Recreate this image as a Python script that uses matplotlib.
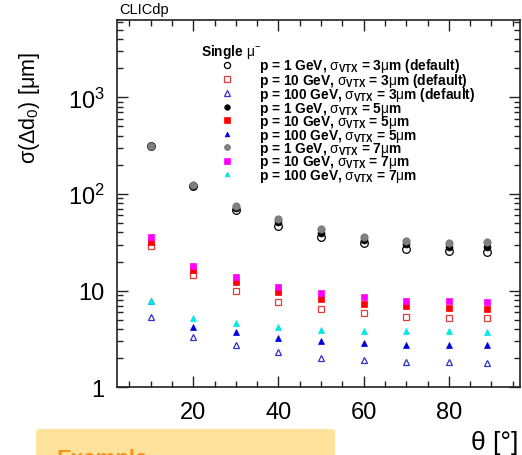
import matplotlib
matplotlib.use("Agg")
import matplotlib.pyplot as plt
from matplotlib.patches import FancyBboxPatch

plt.rcParams['font.family'] = ['Liberation Sans', 'DejaVu Sans']
plt.rcParams['mathtext.fontset'] = 'custom'
plt.rcParams['mathtext.rm'] = 'Liberation Sans'
plt.rcParams['mathtext.it'] = 'Liberation Sans'
plt.rcParams['mathtext.bf'] = 'Liberation Sans:bold'

theta = [10, 20, 30, 40, 50, 60, 70, 80, 89]

# p = 1 GeV
p1_s3 = [310, 120, 68, 47.1, 36.3, 31.0, 27.1, 25.8, 25.2]
p1_s5 = [312, 122, 71, 51.4, 39.3, 33.5, 30.5, 28.6, 28.6]
p1_s7 = [315, 124, 75.7, 54.8, 43.5, 36.3, 33.0, 31.3, 31.8]
# p = 10 GeV
p10_s3 = [29.1, 14.5, 9.8, 7.6, 6.5, 5.9, 5.4, 5.2, 5.25]
p10_s5 = [32.0, 16.2, 12.3, 9.6, 8.2, 7.3, 6.95, 6.6, 6.5]
p10_s7 = [35.5, 17.8, 13.9, 10.8, 9.4, 8.5, 7.9, 7.76, 7.7]
# p = 100 GeV
p100_s3 = [5.36, 3.3, 2.73, 2.33, 2.02, 1.91, 1.82, 1.82, 1.80]
p100_s5 = [7.76, 4.16, 3.72, 3.25, 2.98, 2.86, 2.77, 2.77, 2.77]
p100_s7 = [7.76, 5.15, 4.68, 4.22, 3.93, 3.84, 3.81, 3.80, 3.75]

labels = [
    r"p = 1 GeV, $\sigma_{\mathbf{VTX}}$ = 3$\mu$m (default)",
    r"p = 10 GeV, $\sigma_{\mathbf{VTX}}$ = 3$\mu$m (default)",
    r"p = 100 GeV, $\sigma_{\mathbf{VTX}}$ = 3$\mu$m (default)",
    r"p = 1 GeV, $\sigma_{\mathbf{VTX}}$ = 5$\mu$m",
    r"p = 10 GeV, $\sigma_{\mathbf{VTX}}$ = 5$\mu$m",
    r"p = 100 GeV, $\sigma_{\mathbf{VTX}}$ = 5$\mu$m",
    r"p = 1 GeV, $\sigma_{\mathbf{VTX}}$ = 7$\mu$m",
    r"p = 10 GeV, $\sigma_{\mathbf{VTX}}$ = 7$\mu$m",
    r"p = 100 GeV, $\sigma_{\mathbf{VTX}}$ = 7$\mu$m",
]

ytick_vals = [1, 10, 100, 1000]
ytick_labels = ["1", "10", r"10$^2$", r"10$^3$"]
xtick_vals = [20, 40, 60, 80]
xtick_labels = ["20", "40", "60", "80"]

W, H = 522, 456
fig = plt.figure(figsize=(W / 100, H / 100), dpi=100)
ax = fig.add_axes([117 / W, 1 - 388.3 / H, (520 - 117) / W, (388.3 - 20.7) / H])

series = [
    (p1_s3, dict(marker='o', mfc='none', mec='black', ms=5.5, mew=0.9)),
    (p10_s3, dict(marker='s', mfc='none', mec='#e03a3a', ms=5.0, mew=0.9)),
    (p100_s3, dict(marker='^', mfc='none', mec='#3030c8', ms=5.0, mew=0.9)),
    (p1_s5, dict(marker='o', mfc='black', mec='black', ms=5.0, mew=0.5)),
    (p10_s5, dict(marker='s', mfc='#ff0000', mec='#ff0000', ms=4.6, mew=0.5)),
    (p100_s5, dict(marker='^', mfc='#0000e0', mec='#0000e0', ms=4.3, mew=0.5)),
    (p1_s7, dict(marker='o', mfc='#808080', mec='#707070', ms=5.3, mew=0.5)),
    (p10_s7, dict(marker='s', mfc='#ff00ff', mec='#ff00ff', ms=4.6, mew=0.5)),
    (p100_s7, dict(marker='^', mfc='#00e8e8', mec='#00e8e8', ms=4.3, mew=0.5)),
]
handles = []
for (vals, style), lab in zip(series, labels):
    h, = ax.plot(theta, vals, linestyle='none', label=lab, **style)
    handles.append(h)

ax.set_yscale('log')
ax.set_ylim(1, 6350)
ax.set_xlim(2.1, 96.7)
ax.set_yticks(ytick_vals)
ax.set_yticklabels(ytick_labels)
ax.set_xticks(xtick_vals)
ax.set_xticklabels(xtick_labels)
ax.set_xticks(range(5, 96, 5), minor=True)
ax.tick_params(axis='both', which='both', direction='in', top=True, right=True,
               width=1.0, color='#222222')
ax.tick_params(axis='both', which='major', length=8, labelsize=17)
ax.tick_params(axis='both', which='minor', length=4.5)
ax.tick_params(axis='y', which='major', pad=9)
ax.tick_params(axis='x', which='major', pad=10)
for s in ax.spines.values():
    s.set_linewidth(1.2)
    s.set_color('#222222')

fs = 9.9
leg = ax.legend(handles=handles, loc='upper left',
                bbox_to_anchor=(201 / W, 1 - 43 / H), bbox_transform=fig.transFigure,
                frameon=False, prop={'weight': 'bold', 'size': fs},
                title=r"Single $\mu^{-}$", title_fontproperties={'weight': 'bold', 'size': fs},
                markerscale=0.8, handlelength=3.8, handletextpad=0.45, labelspacing=-0.26,
                borderpad=0.0, borderaxespad=0.0)
leg._legend_box.align = "left"

fig.text(30 / W, 1 - 108 / H, r"σ(Δd$_0$) [μm]", rotation=90, fontsize=15.5,
         ha='center', va='center')
fig.text(518 / W, 1 - 443 / H, "θ [°]", fontsize=19, ha='right', va='center')
fig.text(119 / W, 1 - 10 / H, "CLICdp", fontsize=10.5, ha='left', va='center')

box = FancyBboxPatch((36 / W, -0.05), (335 - 36) / W, (0.05 + (456 - 430) / H),
                     boxstyle="round,pad=0,rounding_size=0.006", transform=fig.transFigure,
                     facecolor='#ffe39c', edgecolor='none')
fig.add_artist(box)
fig.text(57 / W, 1 - 449 / H, "Example", fontsize=16, fontweight='bold',
         color='#f7941d', ha='left', va='top')

fig.savefig("out.png", dpi=100)
